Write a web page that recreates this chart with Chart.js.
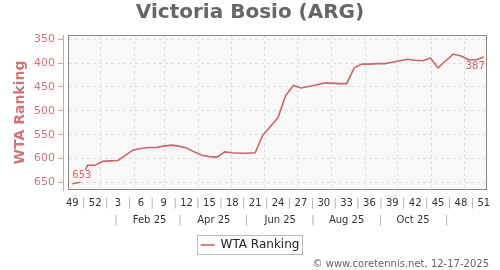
<!DOCTYPE html>
<html>
<head>
<meta charset="utf-8">
<script src="https://cdn.jsdelivr.net/npm/chart.js@4.4.1/dist/chart.umd.min.js"></script>
<style>
html, body { margin: 0; padding: 0; background: #fff; }
</style>
</head>
<body>
<canvas id="rank_chart" width="500" height="270"></canvas>
<script>
var playerName = 'Victoria Bosio (ARG)';
var seriesName = 'WTA Ranking';
var creditText = '\u00a9 www.coretennis.net, 12-17-2025';

// one point per week, week 49 of 2024 up to week 51 of 2025
var weeks = [49, 50, 51, 52, 1, 2, 3, 4, 5, 6, 7, 8, 9, 10, 11, 12, 13, 14, 15, 16, 17, 18, 19, 20, 21, 22, 23, 24, 25, 26,
    27, 28, 29, 30, 31, 32, 33, 34, 35, 36, 37, 38, 39, 40, 41, 42, 43, 44, 45, 46, 47, 48, 49, 50, 51];
var ranking = [653, 650, 614, 614, 606, 605, 604, 593, 582, 579, 577, 577, 574, 572, 574, 578, 586, 593, 596, 597,
    586, 588, 589, 589, 588, 551, 533, 514, 468, 447, 452, 449, 446, 442, 442, 443, 443, 410, 402, 402,
    401, 401, 398, 395, 392, 394, 395, 389, 410, 395, 381, 385, 393, 393, 387];

var yTicks = [350, 400, 450, 500, 550, 600, 650];
var firstPointDate = '2024-12-06';
var monthStarts = ['2025-01-01', '2025-02-01', '2025-03-01', '2025-04-01', '2025-05-01', '2025-06-01',
    '2025-07-01', '2025-08-01', '2025-09-01', '2025-10-01', '2025-11-01', '2025-12-01'];
var monthLabels = ['Feb 25', 'Apr 25', 'Jun 25', 'Aug 25', 'Oct 25'];
var monthLabelDates = ['2025-02-15', '2025-04-15', '2025-06-15', '2025-08-15', '2025-10-15'];
var monthSepDates = ['2025-01-15', '2025-03-15', '2025-05-15', '2025-07-15', '2025-09-15', '2025-11-15'];

var lineColor = '#cc6666';
var axisColor = '#cc7777';

Chart.defaults.font.family = '"DejaVu Sans", sans-serif';

function weekPos(d) {
    return (Date.parse(d) - Date.parse(firstPointDate)) / 604800000;
}

function weekTicks() {
    var t = [];
    for (var i = 0; i < weeks.length; i += 3) {
        t.push({ value: i, text: String(weeks[i]) });
        if (i + 3 < weeks.length) t.push({ value: i + 1.5, text: '|' });
    }
    return t;
}

function monthTicks() {
    var t = [];
    for (var i = 0; i < monthSepDates.length; i++) t.push({ value: weekPos(monthSepDates[i]), text: '|' });
    for (var j = 0; j < monthLabels.length; j++) t.push({ value: weekPos(monthLabelDates[j]), text: monthLabels[j] });
    t.sort(function (a, b) { return a.value - b.value; });
    return t;
}

function tickText(v, i, ticks) {
    return ticks[i].text;
}

function sepColor(c) {
    return c.tick && c.tick.label === '|' ? '#aaaaaa' : '#333333';
}

var points = [];
for (var k = 0; k < ranking.length; k++) points.push({ x: k, y: ranking[k] });

var xMin = -0.56, xMax = 54.42;

var plotFrame = {
    id: 'plotFrame',
    beforeDraw: function (chart) {
        var a = chart.chartArea, ctx = chart.ctx;
        ctx.save();
        ctx.fillStyle = '#f8f8f8';
        ctx.fillRect(a.left, a.top, a.right - a.left, a.bottom - a.top);
        ctx.restore();
    },
    afterDatasetsDraw: function (chart) {
        var a = chart.chartArea, ctx = chart.ctx;
        var meta = chart.getDatasetMeta(0);
        var p0 = meta.data[0], pl = meta.data[meta.data.length - 1];
        ctx.save();
        ctx.strokeStyle = '#888888';
        ctx.lineWidth = 1;
        ctx.strokeRect(Math.round(a.left) + 0.5, Math.round(a.top) + 0.5,
            Math.round(a.right - a.left) - 1, Math.round(a.bottom - a.top) - 1);
        // first and last value
        ctx.font = '10px "DejaVu Sans"';
        ctx.textBaseline = 'middle';
        var t0 = String(ranking[0]);
        var w0 = ctx.measureText(t0).width;
        ctx.fillStyle = '#f8f8f8';
        ctx.fillRect(p0.x - 1, p0.y - 14, w0 + 3, 12);
        ctx.fillStyle = lineColor;
        ctx.textAlign = 'left';
        ctx.fillText(t0, p0.x, p0.y - 8);
        ctx.textAlign = 'right';
        ctx.fillText(String(ranking[ranking.length - 1]), pl.x + 1, pl.y + 9);
        ctx.restore();
    },
    afterDraw: function (chart) {
        var hb = chart.legend && chart.legend.legendHitBoxes[0];
        if (!hb) return;
        var ctx = chart.ctx;
        ctx.save();
        ctx.strokeStyle = '#bbbbbb';
        ctx.lineWidth = 1;
        ctx.strokeRect(Math.round(hb.left - 4) + 0.5, Math.round(hb.top - 4) + 0.5, Math.round(hb.width + 6), 19);
        ctx.restore();
    }
};

var config = {
    type: 'line',
    data: {
        datasets: [{
            label: seriesName,
            data: points,
            xAxisID: 'x',
            yAxisID: 'y',
            borderColor: lineColor,
            backgroundColor: lineColor,
            borderWidth: 1.6,
            pointRadius: 0,
            tension: 0,
            fill: false
        }]
    },
    options: {
        responsive: false,
        animation: false,
        layout: { padding: { left: 11, right: 11, top: 0, bottom: 0 } },
        scales: {
            x: {
                type: 'linear', position: 'bottom', weight: 0, min: xMin, max: xMax,
                afterBuildTicks: function (s) { s.ticks = weekTicks(); },
                afterFit: function (s) { s.height = 20; },
                grid: { display: false, drawTicks: false },
                border: { display: false },
                ticks: { autoSkip: false, maxRotation: 0, minRotation: 0, padding: 7, font: { size: 10 }, color: sepColor, callback: tickText }
            },
            xg: {
                type: 'linear', position: 'bottom', weight: 0.5, min: xMin, max: xMax,
                afterBuildTicks: function (s) {
                    s.ticks = monthStarts.map(function (d) { return { value: weekPos(d) }; });
                },
                afterFit: function (s) { s.height = 0; },
                grid: { color: '#dddddd', drawTicks: false },
                border: { display: false, dash: [3, 3] },
                ticks: { display: false, autoSkip: false }
            },
            xm: {
                type: 'linear', position: 'bottom', weight: 1, min: xMin, max: xMax,
                afterBuildTicks: function (s) { s.ticks = monthTicks(); },
                afterFit: function (s) { s.height = 22; },
                grid: { display: false, drawTicks: false },
                border: { display: false },
                ticks: { autoSkip: false, maxRotation: 0, minRotation: 0, padding: 4.5, font: { size: 10 }, color: sepColor, callback: tickText }
            },
            y: {
                type: 'linear', position: 'left', weight: 1, reverse: true, min: 341, max: 666,
                afterBuildTicks: function (s) {
                    s.ticks = yTicks.map(function (v) { return { value: v }; });
                },
                afterFit: function (s) { s.width = 52; },
                grid: { color: '#dddddd', tickColor: '#dca3a3', tickLength: 5 },
                border: { color: '#dca3a3', dash: [3, 3] },
                ticks: { color: axisColor, padding: 3, font: { size: 11 } },
                title: { display: true, text: seriesName, color: axisColor, font: { size: 14, weight: 'bold' }, padding: { top: 1, bottom: 0 } }
            },
            yg: {
                type: 'linear', position: 'left', weight: 0,
                afterFit: function (s) { s.width = 5; },
                grid: { display: false, drawTicks: false },
                border: { display: false },
                ticks: { display: false }
            },
            yr: {
                type: 'linear', position: 'right', weight: 0,
                afterFit: function (s) { s.width = 2; },
                grid: { display: false, drawTicks: false },
                border: { display: false },
                ticks: { display: false }
            }
        },
        plugins: {
            title: {
                display: true, text: playerName, color: '#666666',
                font: { size: 20, weight: 'bold' }, padding: { top: 1, bottom: 10 }
            },
            subtitle: {
                display: true, text: creditText, position: 'bottom', align: 'end', color: '#666666',
                font: { size: 10 }, padding: { top: -3, bottom: 0 }
            },
            legend: {
                position: 'bottom',
                labels: { usePointStyle: true, pointStyle: 'line', pointStyleWidth: 14, padding: 7, color: '#222222', font: { size: 12 } }
            },
            tooltip: { enabled: false }
        }
    },
    plugins: [plotFrame]
};

function chart() {
    new Chart(document.getElementById("rank_chart").getContext("2d"), config);
}

chart();
</script>
</body>
</html>
